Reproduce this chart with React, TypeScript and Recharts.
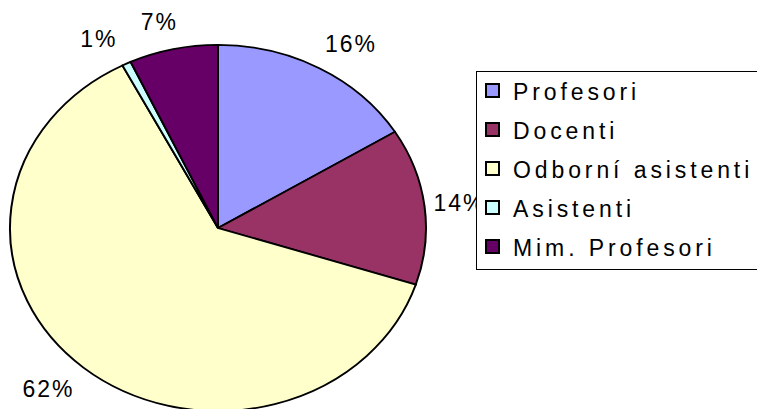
import React from 'react';
import { PieChart, Pie, Cell, Legend } from 'recharts';

const categories = ['Profesori', 'Docenti', 'Odborní asistenti', 'Asistenti', 'Mim. Profesori'];
const shares = [16.2, 13.8, 62.4, 0.7, 6.9];
const colors = ['#9999FF', '#993366', '#FFFFCC', '#CCFFFF', '#660066'];

const data = categories.map((name, i) => ({ name, value: shares[i] }));

const W = 757;
const H = 409;
const CX = 218;
const CY = 228;
const R = 208;
const SY = 0.88;
const RAD = Math.PI / 180;
const FONT = '"Liberation Sans", Arial, sans-serif';
const LABEL_SIZE = 23;

const renderLabel = (props: any) => {
  const { cx, cy, midAngle, outerRadius, percent } = props;
  const text = `${Math.round(percent * 100)}%`;
  const s = Math.cos(midAngle * RAD);
  const c = Math.sin(midAngle * RAD);
  const px = cx + outerRadius * s;
  const py = cy - outerRadius * SY * c;
  const digits = text.length - 1;
  const w = LABEL_SIZE * (0.556 * digits + 0.889) + 2 * digits;
  const shift = Math.min(Math.abs(s) * 65, w / 2 + 10);
  const x = px + Math.sign(s) * shift;
  const y = py - c * 28 + 8.3;
  return (
    <text
      x={x}
      y={y}
      textAnchor="middle"
      fontSize={LABEL_SIZE}
      letterSpacing={2}
      fill="#000"
      fontFamily={FONT}
    >
      {text}
    </text>
  );
};

const renderLegend = () => (
  <div
    style={{
      boxSizing: 'border-box',
      width: 300,
      height: 199,
      border: '1px solid #000',
      background: '#fff',
      paddingTop: 1,
      fontFamily: FONT,
      fontSize: 23,
      letterSpacing: 3.9,
      color: '#000',
    }}
  >
    {categories.map((name, i) => (
      <div key={name} style={{ position: 'relative', height: 39 }}>
        <span
          style={{
            position: 'absolute',
            left: 8,
            top: 10,
            width: 15,
            height: 15,
            boxSizing: 'border-box',
            border: '2px solid #000',
            background: colors[i],
          }}
        />
        <span
          style={{
            position: 'absolute',
            left: 36,
            top: 0,
            lineHeight: '39px',
            whiteSpace: 'nowrap',
          }}
        >
          {name}
        </span>
      </div>
    ))}
  </div>
);

export default function App() {
  return (
    <div style={{ position: 'relative', width: W, height: H, overflow: 'hidden', background: '#fff' }}>
      <style>{`
        body { margin: 0; }
        .recharts-pie .recharts-sector {
          transform-box: view-box;
          transform-origin: ${CX}px ${CY}px;
          transform: scaleY(${SY});
        }
      `}</style>
      <PieChart width={W} height={H} margin={{ top: 0, right: 0, bottom: 0, left: 0 }}>
        <Pie
          data={data}
          dataKey="value"
          nameKey="name"
          cx={CX}
          cy={CY}
          outerRadius={R}
          startAngle={90}
          endAngle={-270}
          stroke="#000"
          strokeWidth={2}
          label={renderLabel}
          labelLine={false}
          isAnimationActive={false}
        >
          {data.map((d, i) => (
            <Cell key={d.name} fill={colors[i]} />
          ))}
        </Pie>
        <Legend
          layout="vertical"
          align="center"
          verticalAlign="middle"
          content={renderLegend}
          wrapperStyle={{ left: 476, top: 71, width: 300, height: 199 }}
        />
      </PieChart>
    </div>
  );
}
